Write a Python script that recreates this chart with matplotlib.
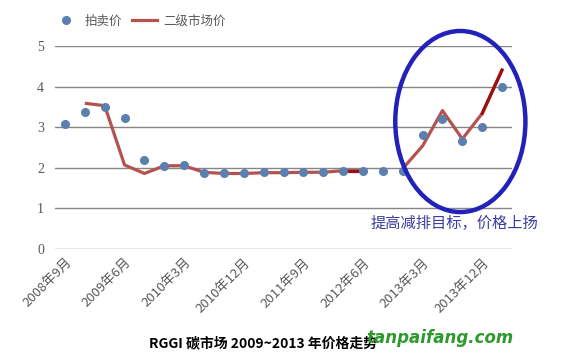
import matplotlib as mpl
mpl.use('Agg')
import matplotlib.pyplot as plt
from matplotlib.patches import Ellipse
from matplotlib.lines import Line2D
import numpy as np

plt.rcParams['font.family'] = ['Noto Sans CJK SC', 'DejaVu Sans']

# quarterly, 2008年9月 .. 2014年3月
quarters = ["2008年9月", "2008年12月", "2009年3月", "2009年6月", "2009年9月", "2009年12月",
            "2010年3月", "2010年6月", "2010年9月", "2010年12月", "2011年3月", "2011年6月",
            "2011年9月", "2011年12月", "2012年3月", "2012年6月", "2012年9月", "2012年12月",
            "2013年3月", "2013年6月", "2013年9月", "2013年12月", "2014年3月"]
auction = [3.07, 3.38, 3.51, 3.23, 2.19, 2.05, 2.07, 1.88, 1.86, 1.86, 1.89, 1.89,
           1.89, 1.89, 1.93, 1.93, 1.93, 1.93, 2.80, 3.21, 2.67, 3.00, 4.00]
secondary = [np.nan, 3.59, 3.53, 2.07, 1.86, 2.05, 2.05, 1.89, 1.86, 1.86, 1.88, 1.88,
             1.89, 1.89, 1.93, 1.93, np.nan, 1.98, 2.54, 3.41, 2.71, 3.34, 4.41]
tick_idx = [0, 3, 6, 9, 12, 15, 18, 21]

x = np.arange(len(quarters))
sec = np.array(secondary)

fig = plt.figure(figsize=(5.66, 3.6), dpi=100)
ax = fig.add_axes([0.0972, 0.3083, 0.8074, 0.5639])

ax.plot(x, sec, color='#b5524f', lw=2.3, zorder=2, solid_capstyle='butt')
# darker segments as in the original
for a, b in [(14, 15), (21, 22)]:
    ax.plot(x[a:b + 1], sec[a:b + 1], color='#9e1010', lw=2.3, zorder=2.1)
ax.plot(x, auction, 'o', color='#5b80b0', ms=5.5, zorder=3)

ax.set_xlim(-0.5, len(quarters) - 0.5)
ax.set_ylim(0, 5)
ax.set_yticks(range(6))
ax.set_yticklabels([str(i) for i in range(6)], family='Liberation Serif', fontsize=10, color='#595959')
ax.set_xticks(tick_idx)
ax.set_xticklabels([quarters[i] for i in tick_idx], rotation=45, ha='right',
                   rotation_mode='anchor', fontsize=9.5, color='#595959')
ax.tick_params(axis='both', length=0, pad=8)
ax.tick_params(axis='x', pad=5)
ax.grid(axis='y', color='#868686', lw=1)
ax.set_axisbelow(True)
for s in ax.spines.values():
    s.set_visible(False)

ell = Ellipse((19.9, 3.14), 6.55, 4.46, fill=False, ec='#2222bb', lw=3.2, clip_on=False, zorder=4)
ax.add_patch(ell)
ax.text(19.6, 0.64, "提高减排目标，价格上扬", ha='center', va='center', fontsize=11, color='#3d3da0')

handles = [Line2D([], [], marker='o', ls='none', color='#5b80b0', ms=5.5),
           Line2D([], [], color='#b5524f', lw=2.3)]
fig.legend(handles, ["拍卖价", "二级市场价"], loc='center left', bbox_to_anchor=(0.085, 0.942),
           ncol=2, frameon=False, fontsize=9, labelcolor='#595959', handlelength=2.0,
           handletextpad=0.5, columnspacing=0.8, borderaxespad=0)

fig.text(0.465, 0.047, "RGGI 碳市场 2009~2013 年价格走势", ha='center', va='center',
         fontsize=10, fontweight='bold')
fig.text(0.907, 0.062, "tanpaifang.com", ha='right', va='center', fontsize=12,
         fontweight='bold', style='italic', color='#2e9a2e', family='DejaVu Sans')

fig.savefig('out.png', dpi=100)
